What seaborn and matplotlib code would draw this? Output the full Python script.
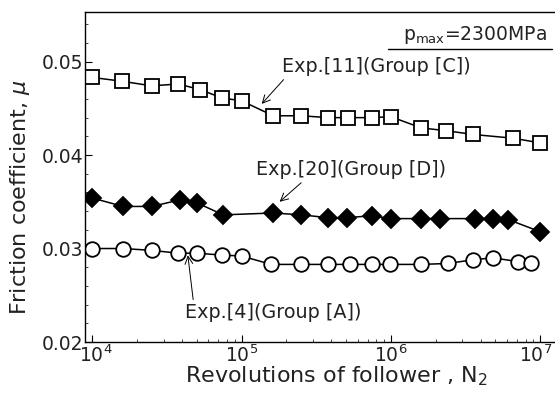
import numpy as np
import pandas as pd
import matplotlib
matplotlib.use("Agg")
import matplotlib.pyplot as plt
import matplotlib.transforms as mtransforms
import seaborn as sns
from matplotlib.ticker import LogLocator, MultipleLocator, NullFormatter

sns.set_theme(style="ticks")
plt.rcParams['font.family'] = ['DejaVu Sans']
plt.rcParams['mathtext.fontset'] = 'dejavusans'

# Exp.[11] (Group [C]) - open squares
n_c = [1.0e4, 1.57e4, 2.5e4, 3.77e4, 5.26e4, 7.43e4, 1.0e5, 1.63e5, 2.52e5, 3.8e5,
       5.18e5, 7.43e5, 1.0e6, 1.6e6, 2.36e6, 3.56e6, 6.6e6, 1.0e7]
mu_c = [0.0483, 0.0479, 0.0474, 0.0476, 0.0470, 0.0461, 0.0458, 0.0442, 0.0442, 0.0440,
        0.0440, 0.0440, 0.0441, 0.0429, 0.0426, 0.0422, 0.0418, 0.0413]

# Exp.[20] (Group [D]) - filled diamonds
n_d = [1.0e4, 1.61e4, 2.5e4, 3.86e4, 5.0e4, 7.53e4, 1.63e5, 2.52e5, 3.8e5, 5.05e5,
       7.43e5, 1.01e6, 1.6e6, 2.13e6, 3.65e6, 4.84e6, 6.11e6, 1.0e7]
mu_d = [0.0354, 0.0345, 0.0345, 0.0352, 0.0349, 0.0336, 0.0338, 0.0336, 0.0333, 0.0333,
        0.0335, 0.0332, 0.0332, 0.0332, 0.0332, 0.0332, 0.0331, 0.0318]

# Exp.[4] (Group [A]) - open circles
n_a = [1.0e4, 1.61e4, 2.5e4, 3.77e4, 5.0e4, 7.35e4, 1.0e5, 1.58e5, 2.52e5, 3.8e5,
       5.31e5, 7.43e5, 9.84e5, 1.6e6, 2.42e6, 3.56e6, 4.84e6, 7.13e6, 8.75e6]
mu_a = [0.0300, 0.0300, 0.0298, 0.0295, 0.0295, 0.0293, 0.0292, 0.0283, 0.0283, 0.0283,
        0.0283, 0.0283, 0.0283, 0.0283, 0.0284, 0.0288, 0.0290, 0.0286, 0.0284]

x_ticks = [1e4, 1e5, 1e6, 1e7]
x_tick_labels = [r"$10^{4}$", r"$10^{5}$", r"$10^{6}$", r"$10^{7}$"]
y_ticks = [0.02, 0.03, 0.04, 0.05]
y_tick_labels = ["0.02", "0.03", "0.04", "0.05"]

fig = plt.figure(figsize=(5.55, 4.04), dpi=100)
ax = fig.add_axes([85/555, 1-342/404, 1-85/555, (342-12)/404])
ax.set_xscale('log')

df_c = pd.DataFrame({'N': n_c, 'mu': mu_c})
df_d = pd.DataFrame({'N': n_d, 'mu': mu_d})
df_a = pd.DataFrame({'N': n_a, 'mu': mu_a})

common = dict(ax=ax, x='N', y='mu', estimator=None, sort=False, color='black',
              linewidth=1.1, markeredgewidth=1.3, markeredgecolor='black')
sns.lineplot(data=df_c, marker='s', markersize=9.8, markerfacecolor='white', **common)
sns.lineplot(data=df_d, marker='D', markersize=8.8, markerfacecolor='black', **common)
sns.lineplot(data=df_a, marker='o', markersize=10.5, markerfacecolor='white', **common)

ax.set_xlim(10**3.951, 10**7.1)
ax.set_ylim(0.02, 0.0553)
ax.set_yticks(y_ticks)
ax.set_yticklabels(y_tick_labels)
ax.set_xticks(x_ticks)
ax.set_xticklabels(x_tick_labels)
ax.yaxis.set_minor_locator(MultipleLocator(0.002))
ax.xaxis.set_minor_locator(LogLocator(base=10, subs=np.arange(2, 10), numticks=20))
ax.xaxis.set_minor_formatter(NullFormatter())
ax.tick_params(which='major', direction='in', length=5, width=0.8, labelsize=13.5, pad=1.5,
               colors='black', labelcolor='#222222')
ax.tick_params(which='minor', direction='in', length=2.5, width=0.6)
ax.spines['right'].set_visible(False)
for s in ['left', 'bottom', 'top']:
    ax.spines[s].set_color('black')
    ax.spines[s].set_linewidth(1.0)

# keep the last decade label inside the figure, as in the reference
xlabels = ax.get_xticklabels()
xlabels[-1].set_transform(xlabels[-1].get_transform() +
                          mtransforms.ScaledTranslation(-4/100, 0, fig.dpi_scale_trans))
xlabels[0].set_transform(xlabels[0].get_transform() +
                         mtransforms.ScaledTranslation(4/100, 0, fig.dpi_scale_trans))

ax.set_xlabel(r"Revolutions of follower , N$_{\mathregular{2}}$", fontsize=16, color='#222222')
ax.set_ylabel(r"Friction coefficient, $\mathit{\mu}$", fontsize=16, color='#222222')
ax.xaxis.set_label_coords(0.534, -0.068)
ax.yaxis.set_label_coords(-0.113, 0.44)

# annotations
fig.text(547/555, 1-35/404, r"p$_{\mathregular{max}}$=2300MPa", fontsize=13.5, ha='right', va='center',
         color='#222222')
fig.add_artist(plt.Line2D([388/555, 552/555], [1-49/404, 1-49/404], color='black', lw=1.0))

txt = dict(fontsize=13.8, ha='left', va='center', color='#222222')
ax.annotate("Exp.[11](Group [C])", xy=(10**5.135, 0.04547), xytext=(10**5.269, 0.04943),
            arrowprops=dict(arrowstyle='->', color='black', lw=0.7, shrinkA=0, shrinkB=0,
                            relpos=(0.03, 0.05)), **txt)
ax.annotate("Exp.[20](Group [D])", xy=(10**5.255, 0.0350), xytext=(10**5.10, 0.0384),
            arrowprops=dict(arrowstyle='->', color='black', lw=0.7, shrinkA=0, shrinkB=0,
                            relpos=(0.26, 0.05)), **txt)
ax.annotate("Exp.[4](Group [A])", xy=(10**4.64, 0.02928), xytext=(10**4.62, 0.02317),
            arrowprops=dict(arrowstyle='->', color='black', lw=0.7, shrinkA=0, shrinkB=0,
                            relpos=(0.05, 0.95)), **txt)

fig.savefig("out.png", dpi=100)
